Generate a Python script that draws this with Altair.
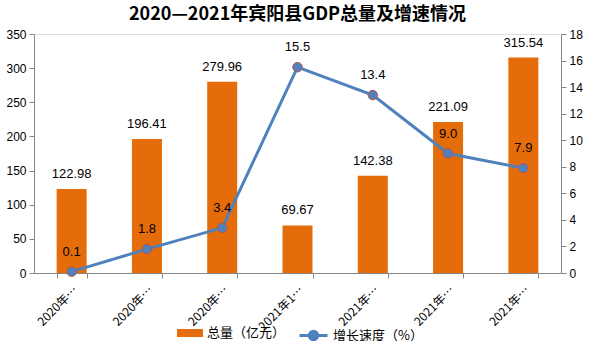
import altair as alt
import pandas as pd

periods = ["2020年上半年", "2020年前三季度", "2020年全年", "2021年1季度", "2021年上半年", "2021年前三季度", "2021年全年"]
shown_labels = ["2020年…", "2020年…", "2020年…", "2021年1…", "2021年…", "2021年…", "2021年…"]
totals = [122.98, 196.41, 279.96, 69.67, 142.38, 221.09, 315.54]
growth = [0.1, 1.8, 3.4, 15.5, 13.4, 9.0, 7.9]
left_ticks = [0, 50, 100, 150, 200, 250, 300, 350]
right_ticks = [0, 2, 4, 6, 8, 10, 12, 14, 16, 18]

bar_name = "总量（亿元）"
line_name = "增长速度（%）"

df = pd.DataFrame({
    "period": periods,
    "total": totals,
    "growth": growth,
    "bar_s": [bar_name] * len(periods),
    "line_s": [line_name] * len(periods),
})

label_map = "{" + ",".join(f"'{p}':'{l}'" for p, l in zip(periods, shown_labels)) + "}"

FONT = "Liberation Sans, Noto Sans CJK SC"
CJK = "Noto Sans CJK SC"
ORANGE = "#E46C0A"
BLUE = "#4F81BD"
AXIS_GRAY = "#868686"

x_axis = alt.Axis(
    labelExpr=f"{label_map}[datum.value]",
    labelAngle=-45,
    labelFontSize=12,
    labelFont=CJK,
    labelColor="#000000",
    tickBand="extent",
    tickSize=5,
    tickColor=AXIS_GRAY,
    domainColor=AXIS_GRAY,
    labelPadding=6,
    labelOverlap=False,
)
x_enc = alt.X("period:N", sort=periods, title=None,
              scale=alt.Scale(paddingInner=0.6, paddingOuter=0.3), axis=x_axis)


def y_axis(vals, orient):
    return alt.Axis(values=vals, tickCount=len(vals), grid=False, orient=orient, tickSize=5,
                    tickColor=AXIS_GRAY, domainColor=AXIS_GRAY,
                    labelFontSize=12, labelFont=FONT, labelColor="#000000", labelPadding=3,
                    labelOverlap=False, labelFlush=False, labelBaseline="middle")


y_left = alt.Y("total:Q", title=None, scale=alt.Scale(domain=[0, 350], nice=False),
               axis=y_axis(left_ticks, "left"))
y_right = alt.Y("growth:Q", title=None, scale=alt.Scale(domain=[0, 18], nice=False),
                axis=y_axis(right_ticks, "right"))

bars = alt.Chart(df).mark_bar(size=30).encode(
    x=x_enc,
    y=y_left,
    fill=alt.Fill(
        "bar_s:N",
        scale=alt.Scale(domain=[bar_name], range=[ORANGE]),
        legend=alt.Legend(
            title=None, orient="none", legendX=143, legendY=286,
            symbolType="M-1,-0.3077H1V0.3077H-1Z", symbolSize=676,
            symbolStrokeWidth=0,
            labelFont=CJK, labelFontSize=13, labelColor="#000000", labelOffset=4,
        ),
    ),
)

bar_text = alt.Chart(df).mark_text(baseline="bottom", dy=-8, fontSize=13, font=FONT, color="#000000").encode(
    x=x_enc,
    y=y_left,
    text=alt.Text("total:Q", format=".2f"),
)

left = alt.layer(bars, bar_text)

line = alt.Chart(df).mark_line(strokeWidth=3).encode(
    x=x_enc,
    y=y_right,
    stroke=alt.Stroke(
        "line_s:N",
        scale=alt.Scale(domain=[line_name], range=[BLUE]),
        legend=alt.Legend(
            title=None, orient="none", legendX=264, legendY=286,
            symbolType="M-1,0H1M0.3,0A0.3,0.3 0 1 1 -0.3,0A0.3,0.3 0 1 1 0.3,0Z",
            symbolSize=784, symbolStrokeWidth=3, symbolFillColor=BLUE,
            labelFont=CJK, labelFontSize=13, labelColor="#000000", labelOffset=4,
        ),
    ),
)

points = alt.Chart(df).mark_point(filled=True, size=90, fill=BLUE, stroke="#C0504D", strokeWidth=1, opacity=1).encode(
    x=x_enc,
    y=y_right,
)

line_text = alt.Chart(df).mark_text(baseline="bottom", dy=-13, fontSize=13, font=FONT, color="#000000").encode(
    x=x_enc,
    y=y_right,
    text=alt.Text("growth:Q", format=".1f"),
)

right = alt.layer(line, points, line_text)

chart = alt.layer(left, right).resolve_scale(y="independent", fill="independent", stroke="independent").properties(
    width=527,
    height=239,
    autosize=alt.AutoSizeParams(type="none"),
    padding={"left": 34, "top": 34, "right": 38, "bottom": 68},
    title=alt.TitleParams(
        "2020—2021年宾阳县GDP总量及增速情况",
        font=CJK, fontSize=18, fontWeight="bold", color="#000000",
        anchor="middle", offset=4,
    ),
).configure_view(stroke=None).configure(background="#ffffff")

chart.save("out.html", embed_options={"renderer": "svg", "actions": False})
